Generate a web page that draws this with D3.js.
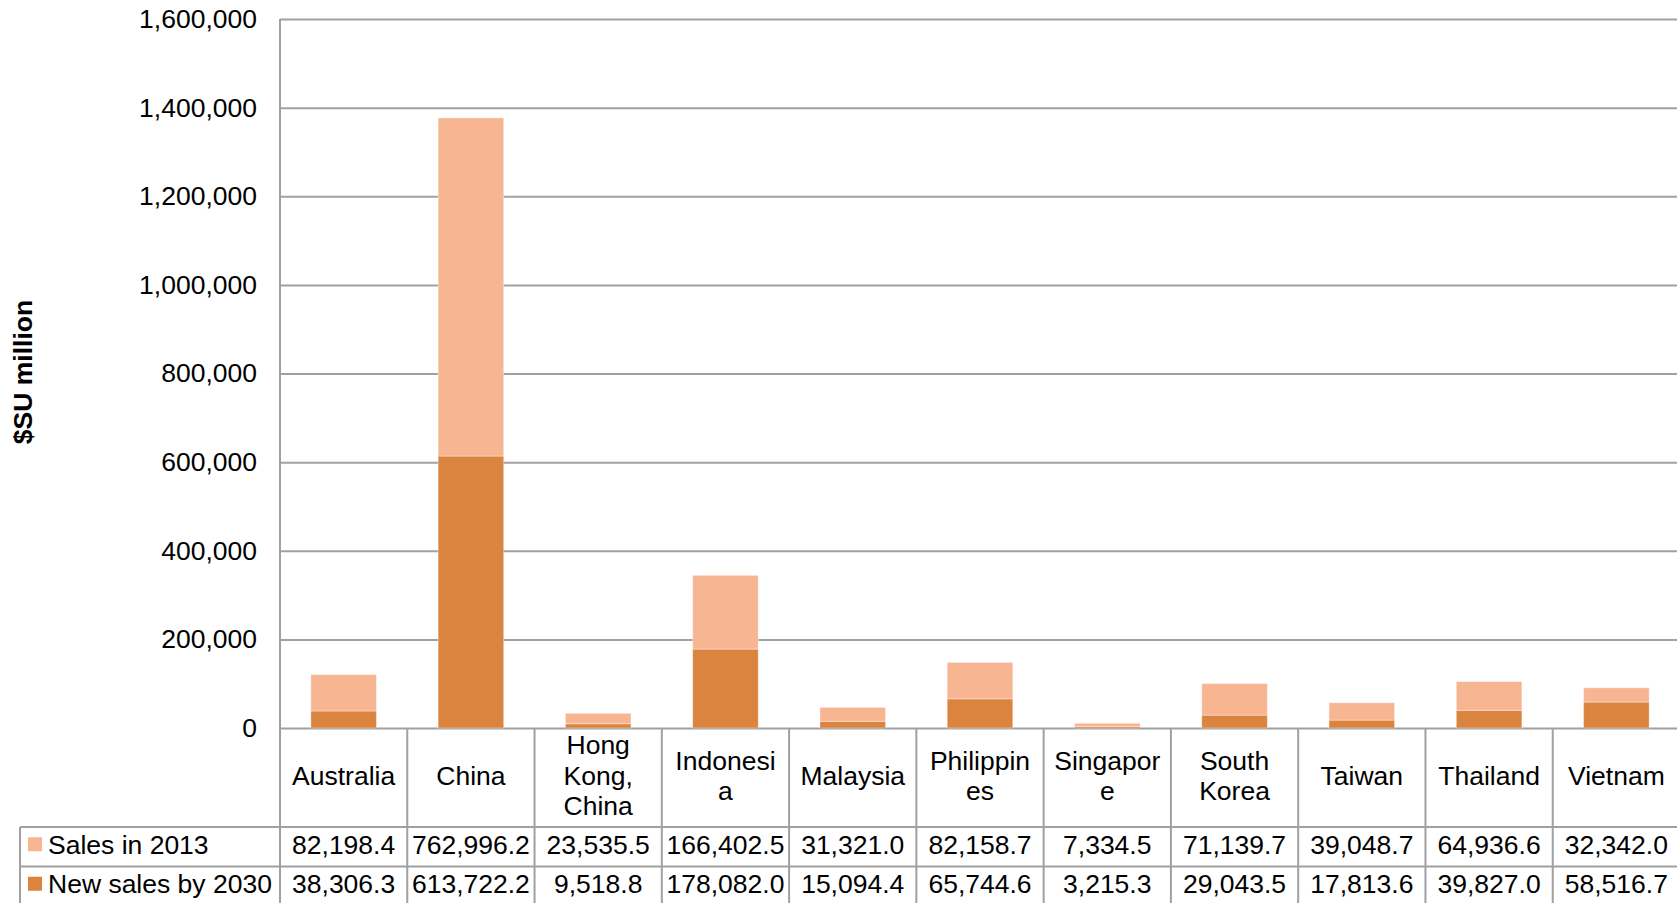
<!DOCTYPE html>
<html>
<head>
<meta charset="utf-8">
<script src="https://cdn.jsdelivr.net/npm/d3@7"></script>
<style>
  html, body { margin: 0; padding: 0; background: #fff; overflow: hidden; }
  svg { display: block; font-family: "Liberation Sans", Arial, sans-serif; }
</style>
</head>
<body>
<svg id="chart" width="1677" height="903"></svg>
<script>
// Categories and their wrapped labels as shown in the data table header
const categories = ["Australia", "China", "Hong Kong, China", "Indonesia", "Malaysia",
  "Philippines", "Singapore", "South Korea", "Taiwan", "Thailand", "Vietnam"];
const categoryLabelLines = [["Australia"], ["China"], ["Hong", "Kong,", "China"], ["Indonesi", "a"],
  ["Malaysia"], ["Philippin", "es"], ["Singapor", "e"], ["South", "Korea"], ["Taiwan"],
  ["Thailand"], ["Vietnam"]];

// Series values ($US million)
const sales2013 = [82198.4, 762996.2, 23535.5, 166402.5, 31321.0, 82158.7, 7334.5, 71139.7, 39048.7, 64936.6, 32342.0];
const newSales2030 = [38306.3, 613722.2, 9518.8, 178082.0, 15094.4, 65744.6, 3215.3, 29043.5, 17813.6, 39827.0, 58516.7];

const seriesNames = ["Sales in 2013", "New sales by 2030"];
const yTicks = [0, 200000, 400000, 600000, 800000, 1000000, 1200000, 1400000, 1600000];

const colors = { sales: "#F8B592", newSales: "#DA843F" };
const lineColor = "#A0A0A0";
const fontSize = 26.5;

const svg = d3.select("#chart");

const plotLeft = 280, plotRight = 1680, plotTop = 19, plotBottom = 728;
const tableLeft = 20;
const headerBottom = 827;
const rowH = 39.5;

const x = d3.scaleBand().domain(categories).range([plotLeft, plotRight]).padding(0);
const y = d3.scaleLinear().domain([0, 1600000]).range([plotBottom, plotTop]);

// Gridlines
svg.append("g")
  .attr("transform", `translate(${plotLeft},0)`)
  .call(d3.axisLeft(y).tickValues(yTicks).tickSize(-(plotRight - plotLeft)).tickFormat(""))
  .call(g => g.select(".domain").remove())
  .call(g => g.selectAll("line").attr("stroke", lineColor).attr("stroke-width", 2));

// Y tick labels
svg.append("g")
  .attr("transform", `translate(${plotLeft},0)`)
  .call(d3.axisLeft(y).tickValues(yTicks).tickSize(0).tickPadding(23).tickFormat(d3.format(",")))
  .call(g => g.select(".domain").remove())
  .call(g => g.selectAll("text")
    .attr("font-size", fontSize)
    .attr("font-family", "'Liberation Sans', Arial, sans-serif")
    .attr("fill", "#000"));

// Y axis title
svg.append("text")
  .attr("transform", `translate(32,372) rotate(-90)`)
  .attr("text-anchor", "middle")
  .attr("font-size", fontSize)
  .attr("font-weight", "bold")
  .attr("fill", "#000")
  .text("$SU million");

// Stacked bars: new sales at the base, 2013 sales on top
const rows = categories.map((c, i) => ({ category: c, newSales: newSales2030[i], sales: sales2013[i] }));
const stacked = d3.stack().keys(["newSales", "sales"])(rows);

const barW = x.bandwidth() * 0.515;
svg.append("g").selectAll("g")
  .data(stacked)
  .join("g")
  .attr("fill", d => colors[d.key])
  .attr("stroke", "rgba(255,255,255,0.35)")
  .attr("stroke-width", 1)
  .selectAll("rect")
  .data(d => d)
  .join("rect")
  .attr("x", d => x(d.data.category) + (x.bandwidth() - barW) / 2)
  .attr("width", barW)
  .attr("y", d => y(d[1]))
  .attr("height", d => y(d[0]) - y(d[1]));

// Data table
const table = svg.append("g");
const rowLines = [plotBottom, headerBottom, headerBottom + rowH, headerBottom + 2 * rowH];

// vertical column borders
const boundaries = categories.map(c => x(c)).concat([plotRight]);
table.selectAll("line.v")
  .data(boundaries)
  .join("line")
  .attr("x1", d => d).attr("x2", d => d)
  .attr("y1", (d, i) => i === 0 ? plotTop : plotBottom)
  .attr("y2", rowLines[3] + 5)
  .attr("stroke", lineColor).attr("stroke-width", 2);

// left border of the legend column
table.append("line")
  .attr("x1", tableLeft).attr("x2", tableLeft)
  .attr("y1", headerBottom).attr("y2", rowLines[3] + 5)
  .attr("stroke", lineColor).attr("stroke-width", 2);

// horizontal row borders
table.selectAll("line.h")
  .data(rowLines.slice(1))
  .join("line")
  .attr("x1", tableLeft).attr("x2", plotRight)
  .attr("y1", d => d).attr("y2", d => d)
  .attr("stroke", lineColor).attr("stroke-width", 2);

// header labels (categories)
const lineH = 30.5;
const headerMid = (plotBottom + headerBottom) / 2 - 2;
categories.forEach((c, i) => {
  const lines = categoryLabelLines[i];
  const t = table.append("text")
    .attr("text-anchor", "middle")
    .attr("font-size", fontSize)
    .attr("fill", "#000");
  lines.forEach((ln, j) => {
    t.append("tspan")
      .attr("x", x(c) + x.bandwidth() / 2)
      .attr("y", headerMid + (j - (lines.length - 1) / 2) * lineH)
      .attr("dy", "0.35em")
      .text(ln);
  });
});

// value rows with legend keys
const fmt = d3.format(",.1f");
const seriesRows = [
  { name: seriesNames[0], values: sales2013, color: colors.sales },
  { name: seriesNames[1], values: newSales2030, color: colors.newSales }
];
seriesRows.forEach((s, r) => {
  const mid = headerBottom + rowH * r + rowH / 2 - 2.5;
  table.append("rect")
    .attr("x", 28).attr("y", mid - 7)
    .attr("width", 14).attr("height", 14)
    .attr("fill", s.color);
  table.append("text")
    .attr("x", 48).attr("y", mid).attr("dy", "0.35em")
    .attr("font-size", fontSize).attr("fill", "#000")
    .text(s.name);
  table.selectAll(null)
    .data(s.values)
    .join("text")
    .attr("x", (d, i) => x(categories[i]) + x.bandwidth() / 2)
    .attr("y", mid).attr("dy", "0.35em")
    .attr("text-anchor", "middle")
    .attr("font-size", fontSize).attr("fill", "#000")
    .text(d => fmt(d));
});
</script>
</body>
</html>
